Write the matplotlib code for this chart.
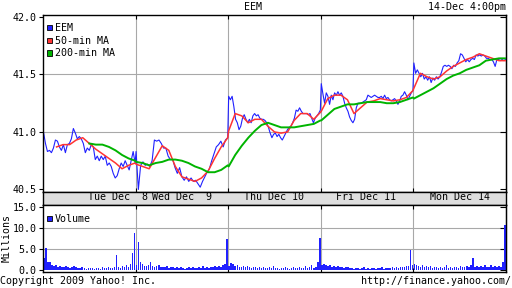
import matplotlib
matplotlib.use("Agg")
import matplotlib.pyplot as plt
from matplotlib.patches import Rectangle
import numpy as np

plt.rcParams["font.family"] = "DejaVu Sans Mono"
plt.rcParams["font.size"] = 7.2

# EEM, five trading days (Tue Dec 8 .. Mon Dec 14 2009), sampled evenly through each day
price_tue = [41.00, 40.90, 40.83, 40.84, 40.82, 40.86, 40.93, 40.92, 40.87, 40.84, 40.89, 40.82,
             40.89, 40.90, 40.94, 41.03, 40.99, 40.94, 40.96, 40.94, 40.90, 40.82, 40.86, 40.84,
             40.89, 40.87, 40.76, 40.79, 40.75, 40.79, 40.76, 40.79, 40.71, 40.73, 40.70, 40.64,
             40.60, 40.62, 40.68, 40.73, 40.70, 40.75, 40.71, 40.67, 40.75, 40.83, 40.73]
price_wed = [40.83, 40.50, 40.71, 40.74, 40.71, 40.72, 40.70, 40.75, 40.93, 40.92, 40.93, 40.90,
             40.86, 40.86, 40.79, 40.76, 40.76, 40.69, 40.64, 40.69, 40.61, 40.58, 40.61, 40.57,
             40.60, 40.57, 40.58, 40.55, 40.52, 40.57, 40.61, 40.65, 40.68, 40.75, 40.81, 40.87,
             40.89, 40.92, 40.87, 40.93, 40.95]
price_thu = [41.31, 41.28, 41.31, 41.22, 41.11, 41.08, 41.02, 41.05, 41.12, 41.15, 41.11, 41.08,
             41.11, 41.08, 41.14, 41.16, 41.14, 41.15, 41.12, 41.11, 41.11, 41.10, 41.08, 41.04,
             40.99, 40.95, 40.98, 40.99, 40.96, 40.98, 40.95, 40.93, 40.96, 40.99, 41.02, 41.04,
             41.05, 41.08, 41.12, 41.19, 41.18, 41.21, 41.18, 41.16, 41.16, 41.16, 41.15, 41.16,
             41.12, 41.08, 41.12, 41.14, 41.16, 41.19]
price_fri = [41.42, 41.33, 41.25, 41.34, 41.31, 41.24, 41.32, 41.28, 41.34, 41.32, 41.35, 41.32,
             41.34, 41.31, 41.25, 41.21, 41.18, 41.13, 41.10, 41.08, 41.11, 41.21, 41.25, 41.25,
             41.25, 41.26, 41.27, 41.28, 41.32, 41.31, 41.30, 41.31, 41.32, 41.31, 41.30, 41.30,
             41.31, 41.29, 41.32, 41.29, 41.30, 41.28, 41.27, 41.28, 41.29, 41.27, 41.24, 41.27,
             41.31, 41.32, 41.35, 41.32, 41.28, 41.31, 41.34, 41.36]
price_mon = [41.60, 41.51, 41.54, 41.51, 41.48, 41.51, 41.46, 41.48, 41.45, 41.48, 41.43, 41.47,
             41.45, 41.48, 41.46, 41.48, 41.52, 41.57, 41.58, 41.57, 41.58, 41.57, 41.55, 41.58,
             41.57, 41.60, 41.62, 41.68, 41.67, 41.64, 41.61, 41.63, 41.61, 41.63, 41.64, 41.63,
             41.67, 41.66, 41.67, 41.66, 41.67, 41.66, 41.64, 41.64, 41.63, 41.63, 41.61, 41.57,
             41.63, 41.63, 41.62, 41.63, 41.62, 41.63]

nan = float("nan")
ma50_tue = [nan, nan, 40.87, 40.89, 40.89, 40.93, 40.95, 40.90, 40.85, 40.81, 40.77, 40.73, 40.68, 40.71, 40.73]
ma50_wed = [40.72, 40.70, 40.68, 40.78, 40.88, 40.84, 40.70, 40.61, 40.59, 40.57, 40.60, 40.66, 40.77, 40.87, 40.95]
ma50_thu = [41.01, 41.16, 41.14, 41.08, 41.11, 41.11, 41.05, 41.00, 40.99, 41.00, 41.10, 41.16, 41.16, 41.11, 41.17]
ma50_fri = [41.18, 41.29, 41.32, 41.32, 41.28, 41.16, 41.21, 41.26, 41.27, 41.29, 41.28, 41.27, 41.28, 41.30, 41.36]
ma50_mon = [41.38, 41.51, 41.48, 41.46, 41.48, 41.53, 41.57, 41.60, 41.63, 41.65, 41.68, 41.66, 41.64, 41.62, 41.62]

ma200_tue = [nan, nan, nan, nan, nan, nan, nan, 40.90, 40.89, 40.89, 40.87, 40.84, 40.80, 40.77, 40.75]
ma200_wed = [40.74, 40.73, 40.71, 40.73, 40.74, 40.76, 40.76, 40.75, 40.73, 40.70, 40.68, 40.65, 40.65, 40.67, 40.71]
ma200_thu = [40.70, 40.80, 40.88, 40.95, 41.01, 41.06, 41.08, 41.06, 41.04, 41.04, 41.04, 41.05, 41.06, 41.07, 41.10]
ma200_fri = [41.10, 41.15, 41.20, 41.22, 41.24, 41.24, 41.25, 41.26, 41.26, 41.26, 41.25, 41.25, 41.26, 41.28, 41.30]
ma200_mon = [41.29, 41.32, 41.35, 41.38, 41.42, 41.46, 41.49, 41.51, 41.54, 41.56, 41.58, 41.62, 41.63, 41.64, 41.64]

# volume in millions
vol_tue = [2.8, 5.2, 2.0, 1.9, 1.2, 0.9, 1.1, 0.8, 1.0, 0.7, 0.8, 1.0, 0.6, 0.5, 0.7, 0.9, 0.6, 0.5,
           0.4, 0.6, 0.5, 0.3, 0.4, 0.5, 0.4, 0.3, 0.5, 0.4, 0.3, 0.6, 0.5, 0.4, 0.8, 0.5, 0.4, 0.6,
           3.6, 0.7, 0.5, 0.9, 0.6, 1.1, 0.8, 1.5, 4.1, 8.9]
vol_wed = [1.2, 6.7, 2.0, 1.4, 1.0, 0.9, 1.3, 1.8, 1.0, 0.8, 0.9, 1.2, 0.7, 0.8, 0.6, 0.9, 0.5, 0.7,
           0.6, 0.4, 0.6, 0.5, 0.8, 0.4, 0.3, 0.5, 0.6, 0.4, 0.7, 0.5, 0.4, 0.6, 0.5, 0.9, 0.4, 0.6,
           0.5, 0.8, 0.6, 1.0, 0.7, 0.9, 0.6, 1.2, 1.5, 7.4]
vol_thu = [1.0, 1.7, 1.5, 0.9, 1.1, 0.7, 0.8, 1.0, 0.6, 0.9, 0.7, 0.5, 0.8, 0.6, 0.5, 0.7, 0.4, 0.6,
           0.5, 0.4, 0.6, 0.5, 0.9, 0.4, 0.5, 0.3, 0.5, 0.4, 0.6, 0.5, 0.3, 0.4, 0.7, 0.5, 0.4, 0.6,
           0.5, 0.4, 0.9, 0.5, 0.6, 1.2, 0.5, 0.7, 1.8, 7.7]
vol_fri = [1.2, 1.5, 1.3, 0.9, 1.1, 0.8, 1.0, 0.7, 0.9, 0.6, 0.8, 0.5, 0.7, 0.6, 0.4, 0.5, 0.3, 0.4,
           0.5, 0.3, 0.4, 0.6, 0.3, 0.4, 0.3, 0.5, 0.4, 0.3, 0.5, 0.4, 0.6, 0.3, 0.4, 0.5, 0.4, 0.6,
           0.5, 0.7, 0.5, 0.6, 0.8, 0.7, 1.0, 0.9, 4.8, 1.1]
vol_mon = [1.5, 1.2, 1.0, 0.8, 1.3, 0.7, 0.9, 0.6, 1.0, 0.5, 0.7, 0.6, 0.4, 0.8, 0.5, 0.6, 1.1, 0.5,
           0.7, 0.4, 0.6, 0.8, 0.5, 0.9, 0.6, 0.7, 1.0, 0.6, 1.2, 2.9, 0.8, 1.0, 0.7, 0.9, 0.6, 1.1,
           0.7, 0.8, 1.2, 0.6, 0.9, 0.7, 1.0, 0.8, 2.0, 10.7]

day_labels = ["Tue Dec  8", "Wed Dec  9", "Thu Dec 10", "Fri Dec 11", "Mon Dec 14"]
day_label_pos = [0.81, 1.50, 2.49, 3.49, 4.50]
price_ticks = [40.5, 41.0, 41.5, 42.0]
price_grid = [41.0, 41.5]
vol_ticks = [0, 5, 10, 15]
vol_grid = [5, 10]

BLUE = "#2020ff"
RED = "#ff3333"
GREEN = "#00b400"
GRID = "#a8a8a8"
W, H = 512, 288


def by_day(days):
    xs, ys = [], []
    for d, vals in enumerate(days):
        xs.extend(d + np.linspace(0.005, 0.995, len(vals)))
        ys.extend(vals)
    return np.array(xs), np.array(ys)


def rect(x0, y0, x1, y1):
    return [x0 / W, 1 - y1 / H, (x1 - x0) / W, (y1 - y0) / H]


def style(ax):
    for s in ax.spines.values():
        s.set_linewidth(1.0)
        s.set_color("black")
    ax.set_xlim(0, 5)
    ax.set_xticks([1, 2, 3, 4])
    ax.tick_params(axis="x", direction="in", length=3, width=0.8, top=True,
                   bottom=True, labelbottom=False)
    ax.tick_params(axis="y", direction="out", length=3, width=0.8, pad=1.5,
                   labelsize=7.2)
    for x in [1, 2, 3, 4]:
        ax.axvline(x, color=GRID, lw=0.8, zorder=0)


fig = plt.figure(figsize=(W / 100, H / 100), dpi=100)

ax = fig.add_axes(rect(43, 15, 506, 192))
style(ax)
ax.set_ylim(40.478, 42.017)
ax.set_yticks(price_ticks, [f"{v:.1f}" for v in price_ticks])
for v in price_grid:
    ax.axhline(v, color=GRID, lw=0.8, zorder=0)
right = ax.secondary_yaxis("right")
right.set_yticks(price_ticks)
right.tick_params(direction="in", length=4, width=0.8, labelright=False)

x, y = by_day([price_tue, price_wed, price_thu, price_fri, price_mon])
ax.plot(x, y, color=BLUE, lw=0.8, zorder=2)
x, y = by_day([ma50_tue, ma50_wed, ma50_thu, ma50_fri, ma50_mon])
ax.plot(x, y, color=RED, lw=1.1, zorder=3)
x, y = by_day([ma200_tue, ma200_wed, ma200_thu, ma200_fri, ma200_mon])
ax.plot(x, y, color=GREEN, lw=1.4, zorder=4)

band = fig.add_axes(rect(43, 192, 506, 205))
band.set_facecolor("#dedede")
band.set_xlim(0, 5)
band.set_ylim(0, 1)
band.set_yticks([])
band.set_xticks(day_label_pos, day_labels)
band.tick_params(axis="x", length=0, pad=-9.5, labelsize=7.2)
for s in band.spines.values():
    s.set_linewidth(1.0)

axv = fig.add_axes(rect(43, 205, 506, 272))
style(axv)
axv.set_ylim(-0.48, 15.48)
axv.set_yticks(vol_ticks, [f"{v:.1f}" for v in vol_ticks])
for v in vol_grid:
    axv.axhline(v, color=GRID, lw=0.8, zorder=0)
rv = axv.secondary_yaxis("right")
rv.set_yticks(vol_ticks)
rv.tick_params(direction="in", length=4, width=0.8, labelright=False)
xv, vv = [], []
for d, vals in enumerate([vol_tue, vol_wed, vol_thu, vol_fri, vol_mon]):
    xv.extend(d + (np.arange(len(vals)) + 0.5) / len(vals))
    vv.extend(vals)
axv.bar(xv, vv, width=0.75 / 46, color=BLUE, linewidth=0, zorder=2)
axv.set_ylabel("Millions", fontsize=7.2, labelpad=1)

# legends
legend = [("EEM", BLUE, 28), ("50-min MA", RED, 41), ("200-min MA", GREEN, 53.5)]
for name, col, yy in legend:
    fig.patches.append(Rectangle((46.5 / W, 1 - (yy + 2) / H), 5.5 / W, 5.5 / H,
                                 facecolor=col, edgecolor="black", lw=0.6,
                                 transform=fig.transFigure))
    fig.text(55 / W, 1 - yy / H, name, va="center", ha="left", fontsize=7.2)
fig.patches.append(Rectangle((46.5 / W, 1 - 221 / H), 5.5 / W, 5.5 / H,
                             facecolor=BLUE, edgecolor="black", lw=0.6,
                             transform=fig.transFigure))
fig.text(55 / W, 1 - 219 / H, "Volume", va="center", ha="left", fontsize=7.2)

fig.text(253 / W, 1 - 7 / H, "EEM", ha="center", va="center", fontsize=7.2)
fig.text(506 / W, 1 - 7 / H, "14-Dec 4:00pm", ha="right", va="center", fontsize=7.2)
fig.text(0, 1 - 281 / H, "Copyright 2009 Yahoo! Inc.", ha="left", va="center", fontsize=7.2)
fig.text(511 / W, 1 - 281 / H, "http://finance.yahoo.com/", ha="right", va="center",
         fontsize=7.2)

fig.savefig("out.png", dpi=100)
